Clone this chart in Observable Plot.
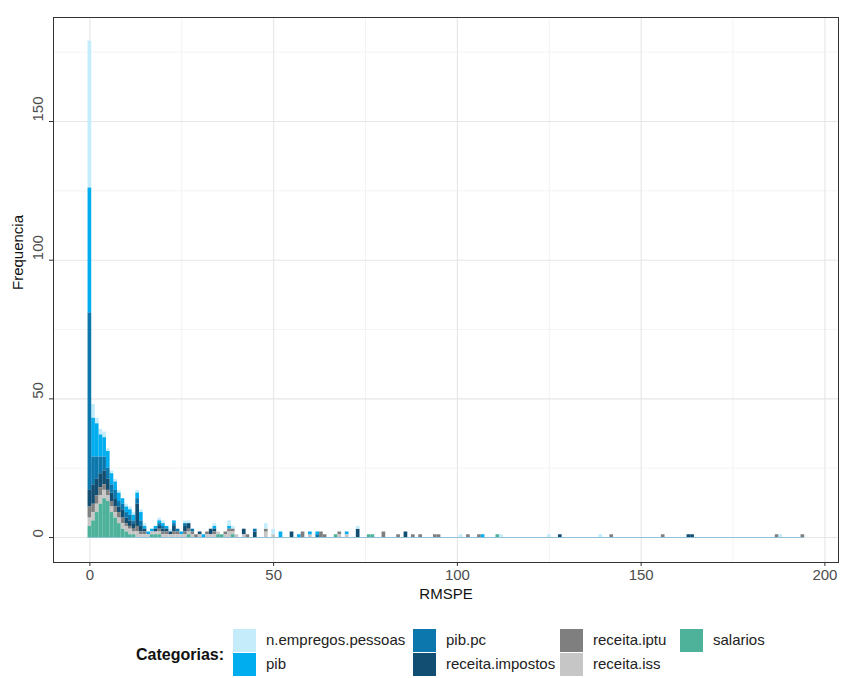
<!DOCTYPE html>
<html>
<head>
<meta charset="utf-8">
<script src="https://cdn.jsdelivr.net/npm/d3@7"></script>
<script src="https://cdn.jsdelivr.net/npm/@observablehq/plot@0.6"></script>
<style>
  html, body { margin: 0; padding: 0; background: #fff; }
  #wrap { position: relative; width: 848px; height: 678px; font-family: "Liberation Sans", Arial, sans-serif; }
  .key { position: absolute; width: 23px; height: 23px; }
  .lab { position: absolute; font-size: 15px; color: #222; line-height: 23px; white-space: nowrap; }
  #ltitle { position: absolute; font-size: 16px; font-weight: bold; color: #111; line-height: 23px; }
</style>
</head>
<body>
<div id="wrap"></div>
<script>
// categories (legend order) and colours
const categories = ["n.empregos.pessoas", "pib", "pib.pc", "receita.impostos", "receita.iptu", "receita.iss", "salarios"];
const colors = ["#c4ecfa", "#00adee", "#0b77ad", "#124d72", "#7f7f7f", "#c6c6c6", "#4eb19a"];

// dense part: bins 0..40 (bin width 1, centred on integers)
const denseBins = d3.range(0, 41);
const nEmpregos = [53,5,2,2,2,1,1,1,1,0,1,1,1,1,1,1,0,0,0,1,1,0,1,0,0,0,1,1,0,0,0,0,0,0,1,0,0,0,2,1,0];
const pib       = [45,14,12,8,7,6,4,3,3,2,2,2,2,2,3,1,1,1,1,1,1,1,0,1,0,1,0,0,0,0,0,1,0,0,1,0,0,0,1,0,0];
const pibPc     = [64,10,8,6,5,4,3,3,2,2,2,2,1,2,2,0,0,0,0,1,1,0,0,1,1,0,1,0,1,0,0,0,0,0,0,0,0,0,0,0,0];
const impostos  = [6,7,6,5,5,4,3,3,2,3,2,2,2,8,2,1,0,0,1,1,1,1,1,2,0,0,2,2,0,0,1,0,0,2,1,0,0,0,0,0,0];
const iptu      = [4,3,3,3,2,2,2,2,2,2,1,1,1,2,1,1,0,0,0,1,1,1,0,1,1,0,1,1,1,1,0,0,1,0,1,0,0,1,1,1,0];
const iss       = [3,3,3,3,3,2,2,2,2,2,2,2,1,2,1,1,1,1,1,1,1,1,1,1,1,1,1,1,1,0,1,0,1,1,1,1,0,1,2,1,1];
const salarios  = [4,6,9,12,14,13,9,7,5,3,2,1,1,0,0,0,0,1,1,1,0,0,0,0,0,0,0,1,0,0,0,0,0,0,0,1,1,0,0,1,0];

// sparse tail: bin, category, count
const tailBins   = [42,42,43,45,45,48,48,48,50,50,52,55,57,58,60,60,62,62,63,64,67,68,68,70,70,73,73,76,77,80,84,86,88,90,94,95,101,103,106,107,111,112,125,128,139,142,156,163,164,187,188,194];
const tailCats   = ["receita.impostos","receita.iss","receita.iptu","receita.impostos","pib.pc","receita.iss","receita.iptu","n.empregos.pessoas","receita.iss","n.empregos.pessoas","pib","receita.impostos","pib","receita.iptu","receita.iss","pib","pib","pib.pc","receita.iptu","receita.iptu","salarios","receita.iptu","receita.iss","pib","receita.iss","receita.impostos","n.empregos.pessoas","salarios","salarios","receita.iptu","receita.iptu","receita.impostos","receita.iptu","receita.iptu","receita.iptu","receita.iptu","n.empregos.pessoas","receita.iptu","receita.iptu","pib","salarios","n.empregos.pessoas","n.empregos.pessoas","receita.impostos","n.empregos.pessoas","receita.iptu","receita.iptu","receita.impostos","receita.impostos","receita.iptu","n.empregos.pessoas","receita.iptu"];
const tailCounts = [2,1,1,2,1,2,1,2,1,2,2,2,1,2,1,1,1,1,2,1,1,1,1,1,1,3,1,1,1,2,1,2,1,1,1,1,1,1,1,1,1,1,1,1,1,1,1,1,1,1,1,1];

// axis ticks
const xMajor = [0, 50, 100, 150, 200];
const xMinor = [25, 75, 125, 175];
const yMajor = [0, 50, 100, 150];
const yMinor = [25, 75, 125, 175];

// build table
const denseSeries = {
  "n.empregos.pessoas": nEmpregos, "pib": pib, "pib.pc": pibPc,
  "receita.impostos": impostos, "receita.iptu": iptu, "receita.iss": iss, "salarios": salarios
};
const rows = [];
for (const cat of categories) {
  denseBins.forEach((b, i) => {
    const n = denseSeries[cat][i];
    if (n > 0) rows.push({x1: b - 0.5, x2: b + 0.5, n, cat});
  });
}
tailBins.forEach((b, i) => rows.push({x1: b - 0.5, x2: b + 0.5, n: tailCounts[i], cat: tailCats[i]}));

const stackOrder = categories.slice().reverse(); // salarios at the bottom
const font = "'Liberation Sans', Arial, sans-serif";

const chart = Plot.plot({
  width: 848,
  height: 612,
  marginTop: 17,
  marginBottom: 50,
  marginLeft: 53,
  marginRight: 10,
  style: {fontFamily: font, background: "#fff"},
  x: {domain: [-9.9, 203.7]},
  y: {domain: [-9.0, 187.5]},
  color: {domain: categories, range: colors},
  marks: [
    Plot.ruleX(xMinor, {stroke: "#f0f0f0", strokeWidth: 0.8}),
    Plot.ruleY(yMinor, {stroke: "#f0f0f0", strokeWidth: 0.8}),
    Plot.ruleX(xMajor, {stroke: "#e6e6e6", strokeWidth: 1.1}),
    Plot.ruleY(yMajor, {stroke: "#e6e6e6", strokeWidth: 1.1}),
    Plot.ruleY([0], {x1: -0.5, x2: 194.5, stroke: "#8fbfd8", strokeWidth: 1}),
    Plot.rectY(rows, Plot.stackY({order: stackOrder, x1: "x1", x2: "x2", y: "n", z: "cat", fill: "cat", inset: 0})),
    Plot.frame({stroke: "#333", strokeWidth: 1}),
    Plot.axisX(xMajor, {tickSize: 4, tickPadding: 3, fontSize: 15, label: null, stroke: "#333", color: "#4d4d4d"}),
    Plot.axisY(yMajor, {tickSize: 4, tickFormat: () => "", label: null, stroke: "#333"}),
    Plot.text(yMajor, {y: d => d, text: d => String(d), frameAnchor: "left", dx: -15, rotate: -90, fontSize: 15, fill: "#4d4d4d"}),
    Plot.text(["RMSPE"], {frameAnchor: "bottom", dy: 36, fontSize: 15, fill: "#111"}),
    Plot.text(["Frequencia"], {frameAnchor: "left", dx: -35, rotate: -90, fontSize: 15, fill: "#111"})
  ]
});

const wrap = document.getElementById("wrap");
wrap.appendChild(chart);

// legend
const title = document.createElement("div");
title.id = "ltitle";
title.textContent = "Categorias:";
title.style.left = "136px";
title.style.top = "643px";
wrap.appendChild(title);

const colX = [233, 413, 560, 680];
const rowY = [629, 653];
categories.forEach((cat, i) => {
  const col = Math.floor(i / 2), row = i % 2;
  const k = document.createElement("div");
  k.className = "key";
  k.style.left = colX[col] + "px";
  k.style.top = rowY[row] + "px";
  k.style.background = colors[i];
  wrap.appendChild(k);
  const l = document.createElement("div");
  l.className = "lab";
  l.textContent = cat;
  l.style.left = (colX[col] + 33) + "px";
  l.style.top = (rowY[row] - 1) + "px";
  wrap.appendChild(l);
});
</script>
</body>
</html>
